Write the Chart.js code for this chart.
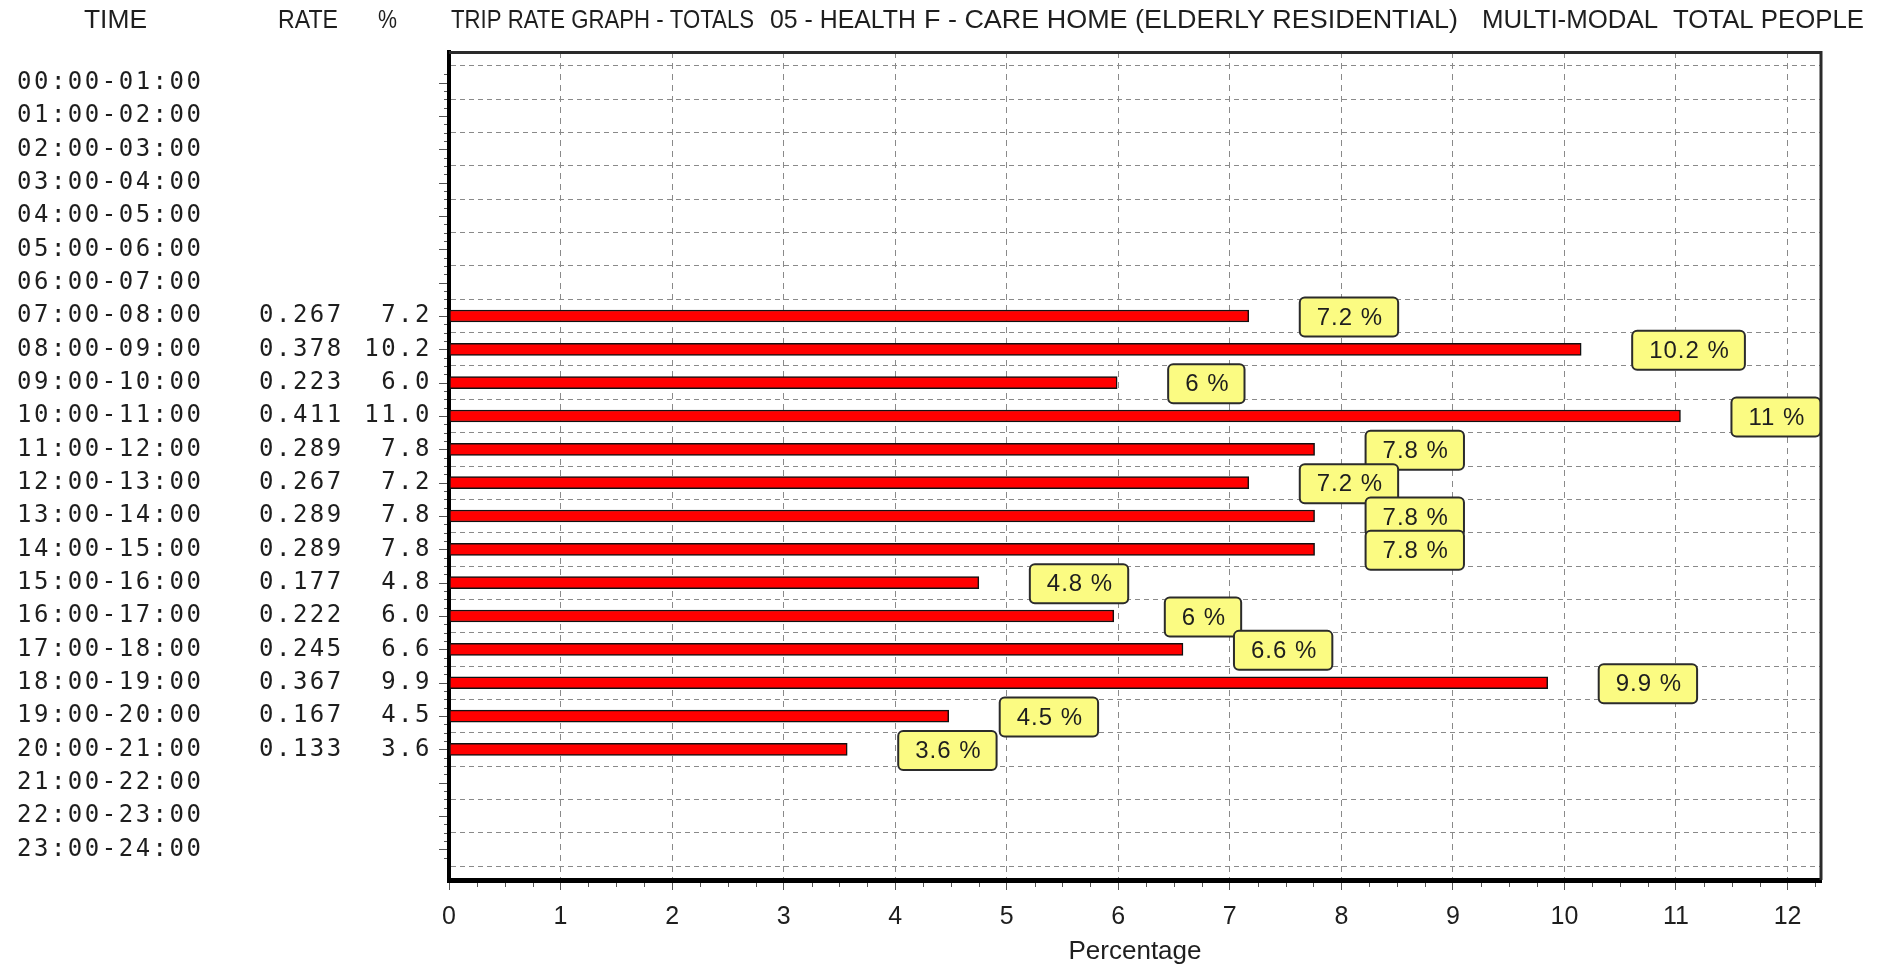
<!DOCTYPE html>
<html>
<head>
<meta charset="utf-8">
<title>Trip rate graph - totals</title>
<script src="https://cdn.jsdelivr.net/npm/chart.js@4.4.1/dist/chart.umd.min.js"></script>
<style>
  html, body { margin: 0; padding: 0; background: #fff; }
  #wrap { width: 1877px; height: 967px; }
</style>
</head>
<body>
<div id="wrap"><canvas id="chart" width="1877" height="967"></canvas></div>
<script>
// Hour bands down the left side
const TIMES = [
  "00:00-01:00", "01:00-02:00", "02:00-03:00", "03:00-04:00", "04:00-05:00", "05:00-06:00",
  "06:00-07:00", "07:00-08:00", "08:00-09:00", "09:00-10:00", "10:00-11:00", "11:00-12:00",
  "12:00-13:00", "13:00-14:00", "14:00-15:00", "15:00-16:00", "16:00-17:00", "17:00-18:00",
  "18:00-19:00", "19:00-20:00", "20:00-21:00", "21:00-22:00", "22:00-23:00", "23:00-24:00",
];

// table columns (null = no survey data for that hour)
const RATES = [
  null, null, null, null, null, null, null,
  "0.267", "0.378", "0.223", "0.411", "0.289", "0.267", "0.289",
  "0.289", "0.177", "0.222", "0.245", "0.367", "0.167", "0.133",
  null, null, null,
];
const PCTS = [
  null, null, null, null, null, null, null,
  "7.2", "10.2", "6.0", "11.0", "7.8", "7.2", "7.8",
  "7.8", "4.8", "6.0", "6.6", "9.9", "4.5", "3.6",
  null, null, null,
];

// bar lengths
const BAR_VALUES = [
  null, null, null, null, null, null, null,
  7.17, 10.15, 5.99, 11.04, 7.76, 7.17, 7.76,
  7.76, 4.75, 5.96, 6.58, 9.85, 4.48, 3.57,
  null, null, null,
];
const BOX_LABELS = [
  null, null, null, null, null, null, null,
  "7.2 %", "10.2 %", "6 %", "11 %", "7.8 %", "7.2 %", "7.8 %",
  "7.8 %", "4.8 %", "6 %", "6.6 %", "9.9 %", "4.5 %", "3.6 %",
  null, null, null,
];

const X_MAX = 12.3;
const HEADINGS = [
  // text, left, right
  ["TIME", 84, 147],
  ["RATE", 278, 338],
  ["%", 378, 397],
  ["TRIP RATE GRAPH - TOTALS", 451, 754],
  ["05 - HEALTH", 770, 916],
  ["F - CARE HOME (ELDERLY RESIDENTIAL)", 924, 1458],
  ["MULTI-MODAL", 1482, 1658],
  ["TOTAL PEOPLE", 1673, 1864],
];

const INK = "#1e1e1e";
const MONO = '"DejaVu Sans Mono", "Liberation Mono", monospace';
const SANS = '"Liberation Sans", Arial, sans-serif';

// squeeze/stretch a string so it spans left..right
function fitText(ctx, text, left, right, y) {
  const w = ctx.measureText(text).width;
  ctx.save();
  ctx.translate(left, y);
  ctx.scale((right - left) / w, 1);
  ctx.textAlign = "left";
  ctx.fillText(text, 0, 0);
  ctx.restore();
}

const tablePlugin = {
  id: "tripTable",
  afterDraw(chart) {
    const { ctx, chartArea: a } = chart;
    const ys = chart.scales.y;
    const xs = chart.scales.x;

    // frame: thin top/right, heavy left/bottom come from the scale borders
    ctx.save();
    ctx.strokeStyle = "#2a2a2a";
    ctx.lineWidth = 3;
    ctx.beginPath();
    ctx.moveTo(a.left, a.top + 0.5);
    ctx.lineTo(a.right, a.top + 0.5);
    ctx.lineTo(a.right, a.bottom);
    ctx.stroke();

    // minor ticks on the left axis and under the bottom axis
    ctx.strokeStyle = "#555";
    ctx.lineWidth = 1;
    ctx.beginPath();
    for (let v = -0.25; v <= 23.25; v += 0.25) {
      const y = Math.round(ys.getPixelForValue(v)) + 0.5;
      const major = Math.abs(v - Math.round(v)) < 1e-6;
      ctx.moveTo(a.left - (major ? 10 : 5), y);
      ctx.lineTo(a.left - 2, y);
    }
    for (let v = 0.25; v <= X_MAX; v += 0.25) {
      const x = Math.round(xs.getPixelForValue(v)) + 0.5;
      if (Math.abs(v - Math.round(v)) < 1e-6) continue;
      ctx.moveTo(x, a.bottom + 3);
      ctx.lineTo(x, a.bottom + 7);
    }
    ctx.stroke();
    ctx.restore();

    // left-hand table
    ctx.save();
    ctx.fillStyle = INK;
    ctx.font = "24px " + MONO;
    ctx.letterSpacing = "2.5px";
    ctx.textBaseline = "middle";
    TIMES.forEach((t, i) => {
      const y = ys.getPixelForValue(i);
      ctx.textAlign = "left";
      ctx.fillText(t, 17, y);
      if (RATES[i]) ctx.fillText(RATES[i], 259, y);
      if (PCTS[i]) {
        ctx.textAlign = "right";
        ctx.fillText(PCTS[i], 432, y);
      }
    });
    ctx.restore();

    // heading line
    ctx.save();
    ctx.fillStyle = INK;
    ctx.font = "25px " + SANS;
    ctx.textBaseline = "middle";
    HEADINGS.forEach(([t, l, r]) => fitText(ctx, t, l, r, 21));
    ctx.restore();

    // yellow value tags to the right of each bar
    const meta = chart.getDatasetMeta(0);
    ctx.save();
    ctx.font = "24px " + SANS;
    ctx.letterSpacing = "1px";
    ctx.textBaseline = "middle";
    ctx.textAlign = "center";
    meta.data.forEach((bar, k) => {
      const row = chart.data.datasets[0].data[k].y;
      const label = BOX_LABELS[row];
      const tw = ctx.measureText(label).width;
      const w = tw + 32, h = 39;
      const left = bar.x + 51;
      const top = bar.y + 1 - h / 2;
      ctx.beginPath();
      ctx.roundRect(left, top, w, h, 5);
      ctx.fillStyle = "#fbfb82";
      ctx.fill();
      ctx.lineWidth = 2;
      ctx.strokeStyle = "#2b2b2b";
      ctx.stroke();
      ctx.fillStyle = INK;
      ctx.fillText(label, left + w / 2 + 1, bar.y + 2);
    });
    ctx.restore();
  },
};

const points = TIMES.map((t, i) => ({ x: BAR_VALUES[i], y: i })).filter(p => p.x != null);

new Chart(document.getElementById("chart"), {
  type: "bar",
  data: {
    datasets: [{
      label: "Percentage",
      data: points,
      backgroundColor: "#ff0000",
      borderColor: "#111",
      borderWidth: 1.5,
      borderSkipped: false,
      barThickness: 12,
    }],
  },
  options: {
    indexAxis: "y",
    responsive: false,
    devicePixelRatio: 1,
    animation: false,
    layout: { padding: { top: 52, right: 56, left: 0, bottom: 0 } },
    plugins: {
      legend: { display: false },
      tooltip: { enabled: false },
      title: { display: false },
    },
    scales: {
      y: {
        type: "linear",
        reverse: true,
        min: -0.4,
        max: 23.4,
        afterFit: s => { s.width = 449; },
        ticks: { display: false, stepSize: 1, includeBounds: false },
        grid: { color: "#8a8a8a", lineWidth: 1, drawTicks: false },
        border: { display: true, color: "#000", width: 4, dash: [5, 4] },
      },
      x: {
        type: "linear",
        min: 0,
        max: X_MAX,
        afterFit: s => { s.height = 87; },
        ticks: {
          stepSize: 1,
          includeBounds: false,
          color: INK,
          padding: 12,
          font: { family: '"Liberation Sans Narrow", "Liberation Sans", sans-serif', size: 25 },
        },
        grid: { color: "#8a8a8a", lineWidth: 1, tickLength: 10, tickColor: "#555" },
        border: { display: true, color: "#000", width: 5, dash: [6, 5] },
        title: {
          display: true,
          text: "Percentage",
          color: INK,
          padding: { top: 0, bottom: 0 },
          font: { family: SANS, size: 26 },
        },
      },
    },
  },
  plugins: [tablePlugin],
});
</script>
</body>
</html>
